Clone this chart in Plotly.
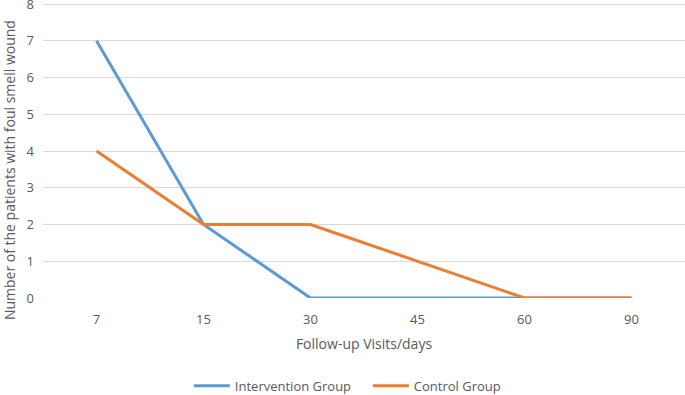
import plotly.graph_objects as go

categories = ["7", "15", "30", "45", "60", "90"]
intervention = [7, 2, 0, 0, 0, 0]
control = [4, 2, 2, 1, 0, 0]
y_ticks = [0, 1, 2, 3, 4, 5, 6, 7, 8]

FONT = "Open Sans, Liberation Sans, sans-serif"
GREY = "#595959"

fig = go.Figure()
fig.add_trace(go.Scatter(x=categories, y=intervention, mode="lines", name="Intervention Group",
                         line=dict(color="#5b9bd5", width=3)))
fig.add_trace(go.Scatter(x=categories, y=control, mode="lines", name="Control Group",
                         line=dict(color="#ed7d31", width=3)))

fig.update_layout(
    width=685, height=395,
    margin=dict(l=43, r=0, t=0, b=97, autoexpand=False),
    paper_bgcolor="white", plot_bgcolor="white",
    font=dict(family=FONT, color=GREY, size=13),
    showlegend=True,
    legend=dict(orientation="h", x=0.506, xanchor="center", y=-0.295, yanchor="middle",
                font=dict(size=13, color=GREY), itemwidth=36, tracegroupgap=0,
                entrywidth=128, entrywidthmode="pixels"),
    xaxis=dict(type="category", range=[-0.5, 5.5], showgrid=False, zeroline=False, showline=False,
               automargin=False,
               ticks="", tickfont=dict(size=13, color=GREY), ticklabelstandoff=12,
               title=dict(text="Follow-up Visits/days", font=dict(size=14, color=GREY), standoff=12)),
    yaxis=dict(range=[0, 8.11], tickvals=y_ticks, showgrid=True, gridcolor="#d9d9d9", gridwidth=1,
               automargin=False, layer="below traces", ticklabeloverflow="allow",
               zeroline=False, ticks="", tickfont=dict(size=13, color=GREY), ticklabelstandoff=8),
)
fig.add_annotation(text="Number of the patients with foul smell wound", xref="paper", yref="paper",
                   x=-0.051, y=0.43, xanchor="center", yanchor="middle", textangle=-90,
                   showarrow=False, font=dict(size=14, color=GREY))

fig.write_html("out.html", config={"displayModeBar": False},
               post_script="document.body.style.margin='0';")
